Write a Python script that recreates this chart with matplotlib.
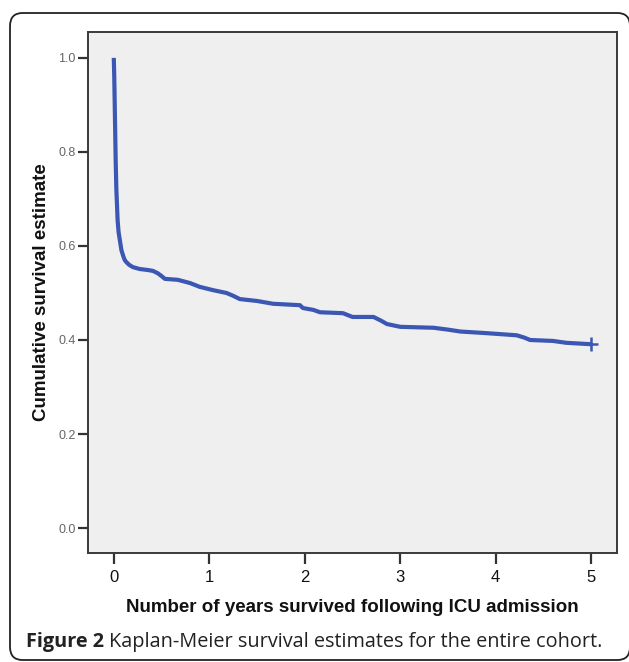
import matplotlib
matplotlib.use("Agg")
import matplotlib.pyplot as plt
from matplotlib.patches import FancyBboxPatch

# Kaplan-Meier curve (years, survival)
years = [0.0, 0.005, 0.01, 0.015, 0.02, 0.027, 0.035, 0.04, 0.05, 0.063, 0.08, 0.1, 0.115, 0.13,
         0.16, 0.2, 0.27, 0.35, 0.41, 0.46, 0.5, 0.535, 0.67, 0.8, 0.9, 1.04, 1.18, 1.25,
         1.32, 1.5, 1.67, 1.95, 1.98, 2.09, 2.16, 2.4, 2.5, 2.72, 2.8, 2.86, 3.0, 3.35,
         3.5, 3.63, 3.87, 4.22, 4.3, 4.36, 4.6, 4.74, 5.0]
survival = [1.0, 0.96, 0.90, 0.84, 0.78, 0.72, 0.68, 0.655, 0.63, 0.613, 0.591, 0.578, 0.570, 0.566,
            0.560, 0.555, 0.551, 0.549, 0.547, 0.542, 0.536, 0.530, 0.528, 0.521, 0.513, 0.506, 0.500, 0.494,
            0.487, 0.483, 0.477, 0.474, 0.468, 0.464, 0.459, 0.457, 0.449, 0.449, 0.441, 0.434, 0.428, 0.426,
            0.422, 0.418, 0.415, 0.410, 0.405, 0.400, 0.398, 0.394, 0.391]
censor_t = [5.0]
censor_s = [0.391]

x_ticks = [0, 1, 2, 3, 4, 5]
y_ticks = [0.0, 0.2, 0.4, 0.6, 0.8, 1.0]
y_ticklabels = ["0.0", "0.2", "0.4", "0.6", "0.8", "1.0"]

W, H = 629, 662
fig = plt.figure(figsize=(W / 100, H / 100), dpi=100)
fig.patch.set_facecolor("white")

# outer rounded frame
frame = FancyBboxPatch((10 / W, 2 / H), (630 - 10) / W, (649 - 2) / H,
                       boxstyle="round,pad=0,rounding_size=0.02",
                       transform=fig.transFigure, facecolor="none",
                       edgecolor="#222222", linewidth=1.3)
fig.patches.append(frame)

ax = fig.add_axes([88 / W, 109 / H, (617 - 88) / W, (630 - 109) / H])
ax.set_facecolor("#efefef")
for s in ax.spines.values():
    s.set_color("#3a3a3a")
    s.set_linewidth(1.4)

ax.plot(years, survival, color="#3b57b3", linewidth=3.0, solid_joinstyle="round",
        solid_capstyle="butt")
ax.plot(censor_t, censor_s, marker="+", color="#3b57b3", markersize=10, markeredgewidth=1.8,
        linestyle="none")

ax.set_xlim(-0.27, 5.27)
ax.set_ylim(-0.053, 1.055)

ax.set_xticks(x_ticks)
ax.set_xticklabels([str(v) for v in x_ticks], fontsize=12, family="Liberation Sans", color="#111111")
ax.set_yticks(y_ticks)
ax.set_yticklabels(y_ticklabels, fontsize=9, family="Liberation Sans", color="#666666")
ax.tick_params(axis="x", direction="out", length=8, width=1.6, color="#333333", pad=4)
ax.tick_params(axis="y", direction="out", length=7, width=1.6, color="#333333", pad=2)

ax.set_xlabel("Number of years survived following ICU admission", fontsize=13.5,
              fontweight="bold", family="Liberation Sans", color="#111111", labelpad=10)
ax.set_ylabel("Cumulative survival estimate", fontsize=13.5, fontweight="bold",
              family="Liberation Sans", color="#111111", labelpad=6)

# caption
t1 = fig.text(26 / W, 1 - 642 / H, "Figure 2", fontsize=14.3, fontweight="bold",
              family="Open Sans", color="#222222", va="center", ha="left")
fig.canvas.draw()
bb = t1.get_window_extent(renderer=fig.canvas.get_renderer())
fig.text((bb.x1 + 5) / W, 1 - 642 / H,
         "Kaplan-Meier survival estimates for the entire cohort.",
         fontsize=14.3, family="Open Sans", color="#222222", va="center", ha="left")

fig.savefig("out.png", dpi=100, facecolor="white")
